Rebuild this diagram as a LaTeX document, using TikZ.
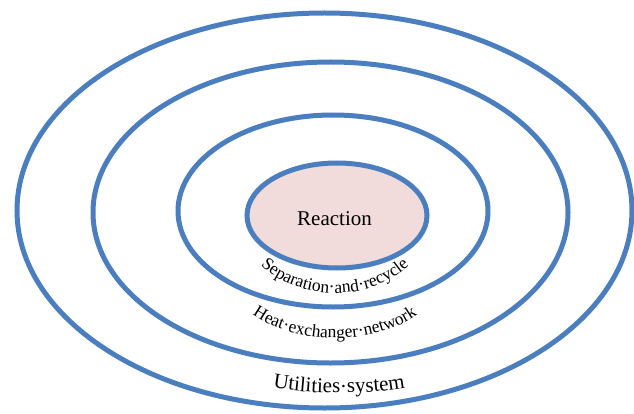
\documentclass[tikz,border=0pt]{standalone}
\usepackage{fontspec}
\setmainfont{Liberation Serif}
\usetikzlibrary{decorations.text}
\definecolor{ringblue}{HTML}{4A7EBE}
\definecolor{corefill}{HTML}{F2DCDB}

\begin{document}
\begin{tikzpicture}[x=1pt,y=1pt,
  ring/.style={draw=ringblue, line width=5pt},
  arclabel/.style={decorate, decoration={text along path, text align=center, text={#1}}},
]
\useasboundingbox (0,0) rectangle (634,413);

% centres of the four layers
\coordinate (cUtil) at (324.5,202.5);
\coordinate (cHen)  at (330.5,200.5);
\coordinate (cSep)  at (333,202);
\coordinate (cReac) at (337,197.5);

% onion rings
\draw[ring] (cUtil) ellipse [x radius=307.5, y radius=197.5];
\draw[ring] (cHen)  ellipse [x radius=237.5, y radius=150.5];
\draw[ring] (cSep)  ellipse [x radius=155,   y radius=96];
\draw[ring, fill=corefill] (cReac) ellipse [x radius=90, y radius=52.5];

\node[anchor=base, font=\fontsize{21}{25}\selectfont] (reaction) at (334.5,188) {Reaction};

% curved layer labels
\path[arclabel={|\fontsize{17.5}{20}\selectfont|Separation·and·recycle}]
  (335,200) ++(208:98 and 80) arc[start angle=208, end angle=332, x radius=98, y radius=80];

\path[arclabel={|\fontsize{17.5}{20}\selectfont|Heat·exchanger·network}]
  (335,141) ++(210:108 and 66) arc[start angle=210, end angle=330, x radius=108, y radius=66];

\path[arclabel={|\fontsize{21}{24}\selectfont|Utilities·system}]
  (339,80) ++(228:160 and 60) arc[start angle=228, end angle=312, x radius=160, y radius=60];
\end{tikzpicture}
\end{document}
